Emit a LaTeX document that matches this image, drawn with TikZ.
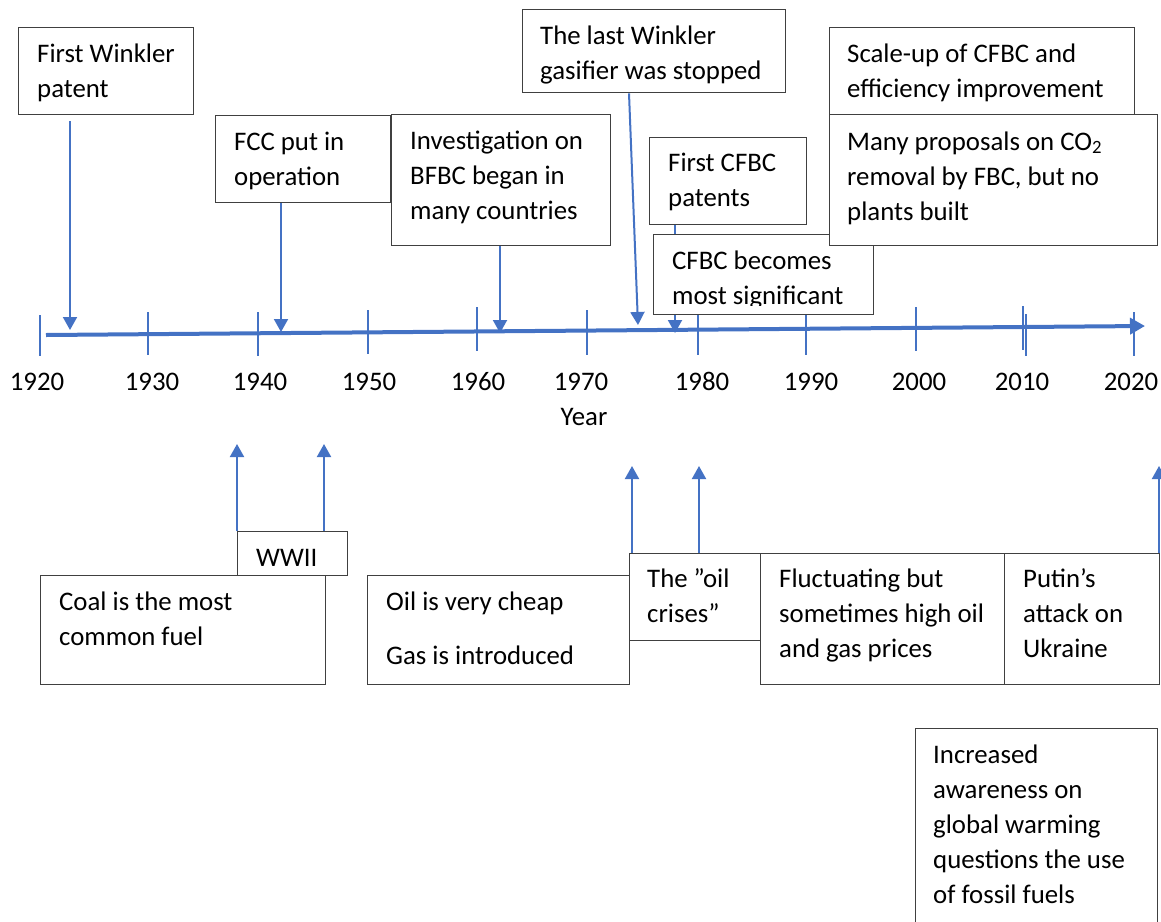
\documentclass[tikz,border=0pt]{standalone}
\usepackage{fontspec}
\setmainfont{Carlito}
\usetikzlibrary{arrows.meta}
\definecolor{tblue}{HTML}{4472C4}
\definecolor{bline}{HTML}{404040}
\pgfdeclarelayer{background}
\pgfsetlayers{background,main}
\newcommand\tl[1]{\begin{tabular}[t]{@{}l@{}}#1\end{tabular}}
\begin{document}
\begin{tikzpicture}[x=1pt,y=-1pt,
  box/.style={draw=bline,line width=1.3pt,fill=white,inner sep=0pt,anchor=north west},
  txt/.style={anchor=base west,inner sep=0pt,font=\fontsize{26.8}{35}\selectfont},
  yr/.style={anchor=base,inner sep=0pt,font=\fontsize{26.8}{35}\selectfont},
  tick/.style={draw=tblue,line width=2.2pt},
  arr/.style={draw=tblue,line width=2pt,-{Triangle[width=14pt,length=13pt]}},
]
\clip (0,0) rectangle (1161,921);
\useasboundingbox (0,0) rectangle (1161,921);

% ---------- top boxes ----------
\node[box,minimum width=175pt,minimum height=87pt] (b1) at (18,27) {};
\node[box,minimum width=175pt,minimum height=87pt] (b2) at (215,115) {};
\node[box,minimum width=219pt,minimum height=131pt] (b3) at (391,114) {};
\node[box,minimum width=263pt,minimum height=83pt] (b4) at (522,9) {};
\node[box,minimum width=157pt,minimum height=87pt] (b5) at (649,137) {};
\node[box,minimum width=220pt,minimum height=80pt] (b6) at (653,234) {};
\node[box,minimum width=305pt,minimum height=87pt] (b7) at (829,27) {};

\node[txt] (t1) at (37,62) {\tl{First Winkler\\patent}};
\node[txt] (t2) at (234,150) {\tl{FCC put in\\operation}};
\node[txt] (t3) at (410,149) {\tl{Investigation on\\BFBC began in\\many countries}};
\node[txt] (t4) at (540,44) {\tl{The last Winkler\\gasifier was stopped}};
\node[txt] (t5) at (668,171) {\tl{First CFBC\\patents}};
\begin{scope}
  \clip (653,234) rectangle (873,305);
  \node[txt] (t6) at (672,269) {\tl{CFBC becomes\\most significant}};
\end{scope}
\node[txt] (t7) at (847,62) {\tl{Scale-up of CFBC and\\efficiency improvement}};
\node[box,minimum width=328pt,minimum height=131pt] (b8) at (829,114) {};
\node[txt] (t8) at (847,150) {\tl{Many proposals on CO\textsubscript{2}\\removal by FBC, but no\\plants built}};

% ---------- bottom boxes ----------
\node[box,minimum width=110pt,minimum height=44pt] (c1) at (237,531) {};
\node[box,minimum width=285pt,minimum height=109pt] (c2) at (40,575) {};
\node[box,minimum width=262pt,minimum height=109pt] (c3) at (367,575) {};
\node[box,minimum width=131pt,minimum height=87pt] (c4) at (629,553) {};
\node[box,minimum width=244pt,minimum height=131pt] (c5) at (760,553) {};
\node[box,minimum width=155pt,minimum height=131pt] (c6) at (1004,553) {};
\node[box,minimum width=242pt,minimum height=210pt] (c7) at (915,728) {};

\node[txt] (s1) at (256,566) {WWII};
\node[txt] (s2) at (59,610) {\tl{Coal is the most\\common fuel}};
\node[txt] (s3) at (386,610) {\tl{Oil is very cheap\\[19pt]Gas is introduced}};
\node[txt] (s4) at (647,587) {\tl{The ”oil\\crises”}};
\node[txt] (s5) at (779,587) {\tl{Fluctuating but\\sometimes high oil\\and gas prices}};
\node[txt] (s6) at (1023,587) {\tl{Putin’s\\attack on\\Ukraine}};
\node[txt] (s7) at (933,763) {\tl{Increased\\awareness on\\global warming\\questions the use\\of fossil fuels}};

% ---------- year labels ----------
\node[yr] (y1920) at (37,390) {1920};
\node[yr] (y1930) at (152,390) {1930};
\node[yr] (y1940) at (260,390) {1940};
\node[yr] (y1950) at (369,390) {1950};
\node[yr] (y1960) at (478,390) {1960};
\node[yr] (y1970) at (581,390) {1970};
\node[yr] (y1980) at (702,390) {1980};
\node[yr] (y1990) at (811,390) {1990};
\node[yr] (y2000) at (919,390) {2000};
\node[yr] (y2010) at (1022,390) {2010};
\node[yr] (y2020) at (1131,390) {2020};
\node[yr] (year) at (584,425) {Year};

% ---------- coordinates ----------
\coordinate (ax0) at (46,335);
\coordinate (ax1) at (1145,326);
\coordinate (p1) at (70,330);
\coordinate (p2) at (281,332);
\coordinate (p3) at (500,333);
\coordinate (p4) at (638,325);
\coordinate (p5) at (675,333);
\coordinate (u1) at (237,444);
\coordinate (u2) at (324,444);
\coordinate (u3) at (632,466);
\coordinate (u4) at (699,466);
\coordinate (u5) at (1159,466);

\begin{pgfonlayer}{background}
  % ticks
  \draw[tick] (40,315) -- (40,356);
  \draw[tick] (148,312) -- (148,355);
  \draw[tick] (258,312) -- (258,356);
  \draw[tick] (368,310) -- (368,354);
  \draw[tick] (477,307) -- (477,351);
  \draw[tick] (587,310) -- (587,355);
  \draw[tick] (698,310) -- (698,355);
  \draw[tick] (806,310) -- (806,355);
  \draw[tick] (916,307) -- (916,351);
  \draw[tick] (1023,306) -- (1023,350);
  \draw[tick,line width=1.4pt] (1026,314) -- (1026,356);
  \draw[tick] (1134,312) -- (1134,356);
  % main axis
  \draw[draw=tblue,line width=4pt,-{Triangle[width=16pt,length=15pt]}] (ax0) -- (ax1);
  % down arrows
  \draw[arr,shorten <=6pt] (b1.south -| p1) -- (p1);
  \draw[arr] (b2.south -| p2) -- (p2);
  \draw[arr] (b3.south -| p3) -- (p3);
  \draw[arr] ([xshift=107pt]b4.south west) -- (p4);
  \draw[arr] (b5.south -| p5) -- (p5);
  % up arrows
  \draw[arr] (c1.north west -| u1) -- (u1);
  \draw[arr] (c1.north west -| u2) -- (u2);
  \draw[arr] (c4.north west -| u3) -- (u3);
  \draw[arr] (c4.north west -| u4) -- (u4);
  \draw[arr] (c6.north east -| u5) -- (u5);
\end{pgfonlayer}
\end{tikzpicture}
\end{document}
